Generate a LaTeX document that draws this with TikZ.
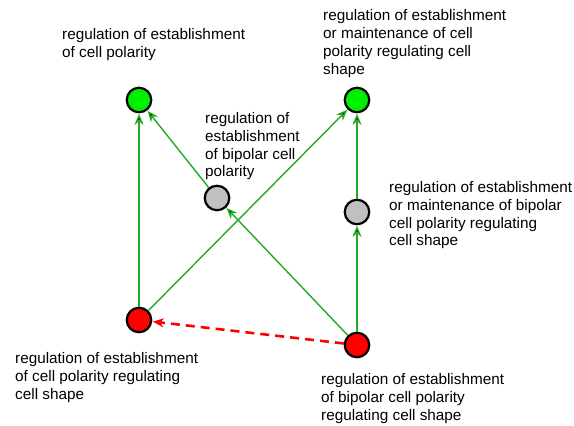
\documentclass[tikz,border=0pt]{standalone}
\usepackage{fontspec}
\setmainfont{Liberation Sans}
\usetikzlibrary{arrows.meta}
\definecolor{nodegreen}{RGB}{0,240,0}
\definecolor{nodegray}{RGB}{192,192,192}
\definecolor{nodered}{RGB}{255,0,0}
\definecolor{edgegreen}{RGB}{34,170,34}

\begin{document}
\begin{tikzpicture}[x=1pt,y=-1pt,>={Stealth[length=11pt,width=9pt,inset=3.5pt]},shorten >=0.5pt,
                    main node/.style={circle,draw,line width=2.2pt,minimum size=24.5pt,inner sep=0pt},
                    term/.style={anchor=north west,inner sep=0pt,align=left,font=\fontsize{15.3}{17.9}\selectfont}]
  \useasboundingbox (0,0) rectangle (574,426);
  \node[main node,fill=nodegreen] (1) at (139,100) {};
  \node[main node,fill=nodegreen] (2) at (357,100) {};
  \node[main node,fill=nodegray] (3) at (217,198) {};
  \node[main node,fill=nodegray] (4) at (357,212) {};
  \node[main node,fill=nodered] (5) at (139,320) {};
  \node[main node,fill=nodered] (6) at (357,345) {};
  \node[term] (l1) at (62,28) {regulation of establishment\\of cell polarity};
  \node[term] (l2) at (323,9.5) {regulation of establishment\\or maintenance of cell\\polarity regulating cell\\shape};
  \node[term] (l3) at (205,112) {regulation of\\establishment\\of bipolar cell\\polarity};
  \node[term] (l4) at (389,181) {regulation of establishment\\or maintenance of bipolar\\cell polarity regulating\\cell shape};
  \node[term] (l5) at (15,352) {regulation of establishment\\of cell polarity regulating\\cell shape};
  \node[term] (l6) at (321,373) {regulation of establishment\\of bipolar cell polarity\\regulating cell shape};
  \path[->,draw=edgegreen,line width=1.4pt]
    (5) edge (1)
        edge (2)
    (3) edge (1)
    (6) edge (3)
        edge (4)
    (4) edge (2);
  \draw[->,nodered,line width=2.6pt,dash pattern=on 9pt off 6pt] (6) -- (5);
\end{tikzpicture}
\end{document}
